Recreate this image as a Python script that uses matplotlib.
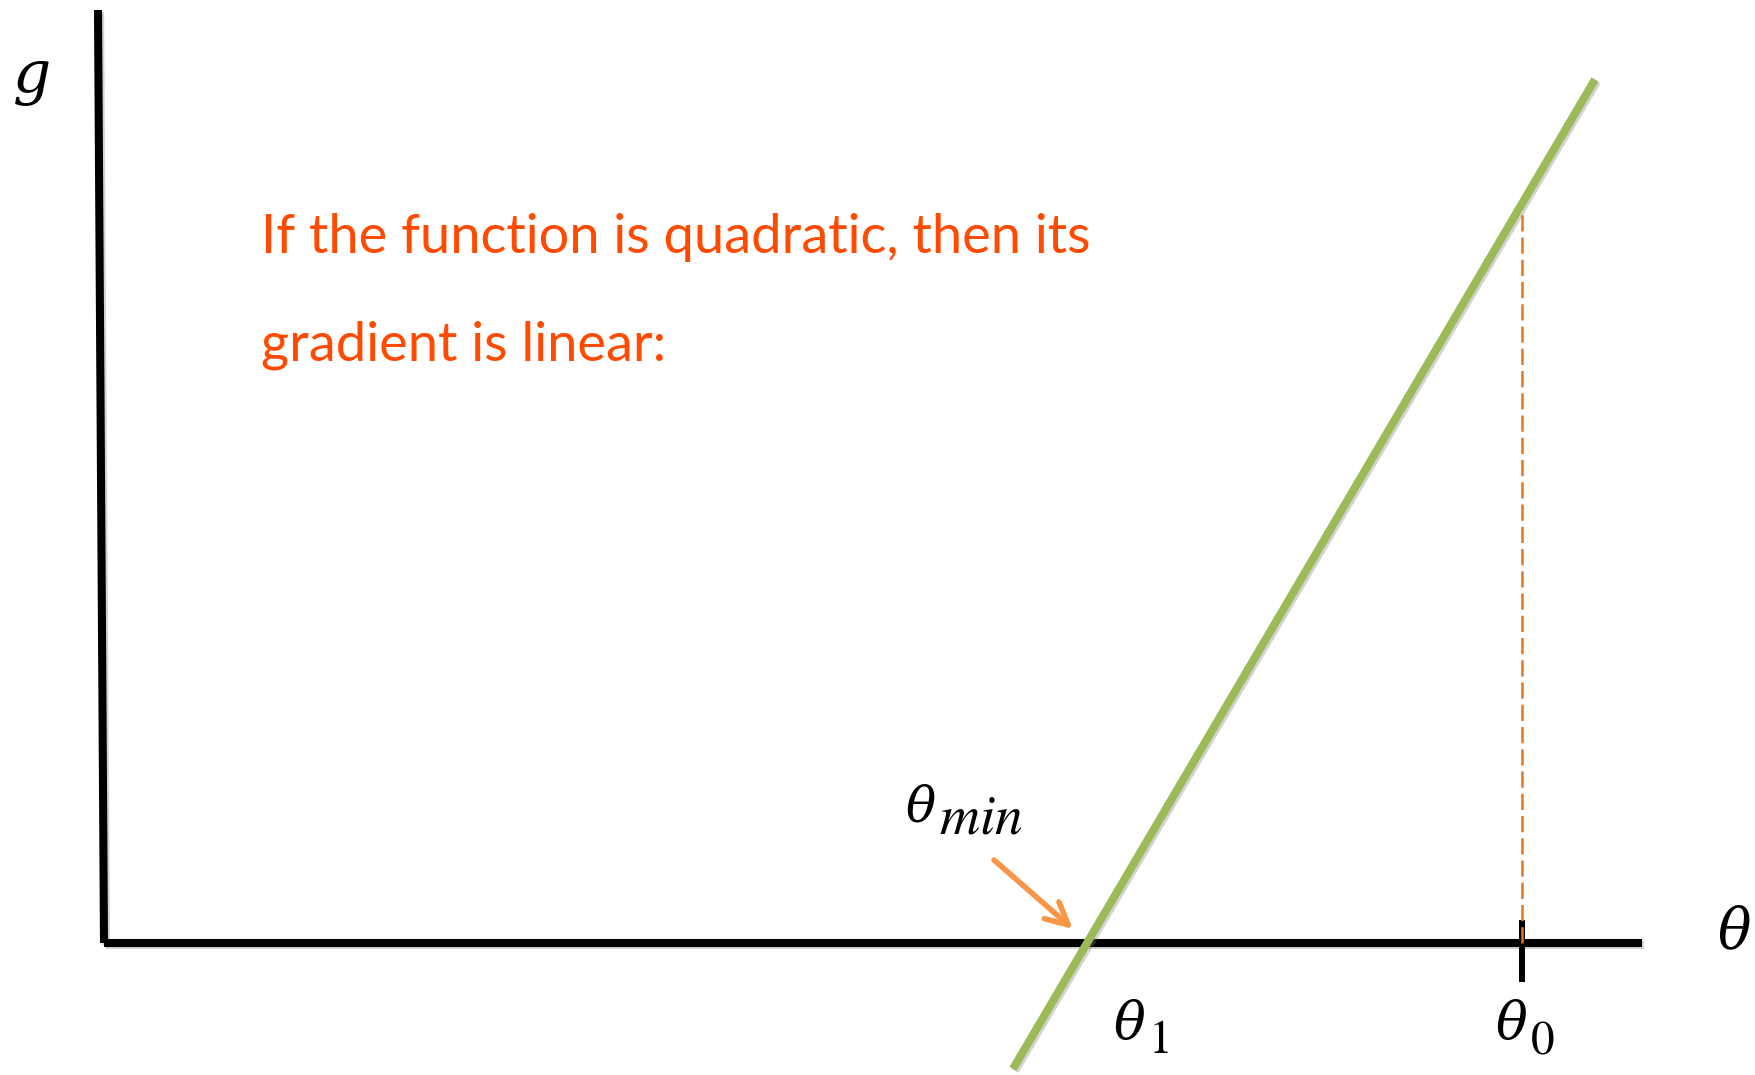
import matplotlib
matplotlib.use("Agg")
import matplotlib.pyplot as plt
import matplotlib.patheffects as pe
import numpy as np

plt.rcParams['mathtext.fontset'] = 'stix'

# ---- data (schematic units: origin at axis corner) ----
theta_min = 9.83          # where gradient crosses zero
theta0 = 14.18            # starting point
slope = 1.70              # gradient of linear g(theta)
green_theta = [9.09, 14.91]
yaxis_theta = [0.0, -0.06]
yaxis_g = [0.0, 9.33]
xaxis_theta = [0.0, 15.38]
tick_g = [0.23, -0.39]
caption_lines = ["If the function is quadratic, then its", "gradient is linear:"]

W, H = 1756, 1075
fig = plt.figure(figsize=(W / 100, H / 100), dpi=100)
ax = fig.add_axes([0, 0, 1, 1])
ax.set_xlim(-1.04, (W - 104) / 100)
ax.set_ylim(-(H - 943) / 100, 9.43)
ax.axis('off')

shadow = [pe.SimpleLineShadow(offset=(1.5, -1.5), shadow_color='gray', alpha=0.35), pe.Normal()]

# axes lines
ax.plot(yaxis_theta, yaxis_g, color='black', lw=5.8, solid_capstyle='butt', path_effects=shadow, zorder=2)
ax.plot(xaxis_theta, [0, 0], color='black', lw=5.8, solid_capstyle='butt', path_effects=shadow, zorder=2)

# tick at theta0
ax.plot([theta0, theta0], tick_g, color='black', lw=4.3, solid_capstyle='butt', zorder=3)

# green gradient line
gt = np.array(green_theta)
ax.plot(gt, slope * (gt - theta_min), color='#9BBB59', lw=5.8, solid_capstyle='butt',
        path_effects=shadow, zorder=4)

# dashed vertical from theta0
g0 = slope * (theta0 - theta_min)
ax.plot([theta0, theta0], [0, g0 + 0.06], color='#E8761E', lw=1.8, dashes=(6.5, 2.4), zorder=3)

# arrow to theta_min
ax.annotate('', xy=(theta_min - 0.14, 0.14), xytext=(theta_min - 0.93, 0.83),
            arrowprops=dict(arrowstyle='->,head_length=0.8,head_width=0.4', color='#F79646',
                            lw=4.0, mutation_scale=20, shrinkA=0, shrinkB=0), zorder=5)

# axis labels
ax.text(-0.73, 8.50, r'$g$', fontsize=43, ha='center', va='baseline', math_fontfamily='dejavuserif')
ax.text(16.30, -0.05, r'$\theta$', fontsize=40, ha='center', va='baseline', math_fontfamily='dejavuserif')


def sub_label(x, y, sub, sub_dx, sub_dy, base_size=36, sub_size=40):
    ax.text(x, y, r'$\theta$', fontsize=base_size, ha='left', va='baseline', math_fontfamily='dejavuserif')
    ax.text(x + sub_dx, y + sub_dy, '$' + sub + '$', fontsize=sub_size, ha='left', va='baseline')


sub_label(theta_min - 1.82, 1.22, 'min', 0.34, -0.13)
sub_label(theta_min + 0.26, -0.96, '1', 0.35, -0.14, base_size=38, sub_size=34)
sub_label(theta0 - 0.27, -0.96, '0', 0.35, -0.14, base_size=38, sub_size=34)

# caption
for i, line in enumerate(caption_lines):
    ax.text(1.57, 6.90 - i * 1.08, line, fontsize=39, family='Lato', color='#FF4A00',
            ha='left', va='baseline')

fig.savefig('out.png', dpi=100)
